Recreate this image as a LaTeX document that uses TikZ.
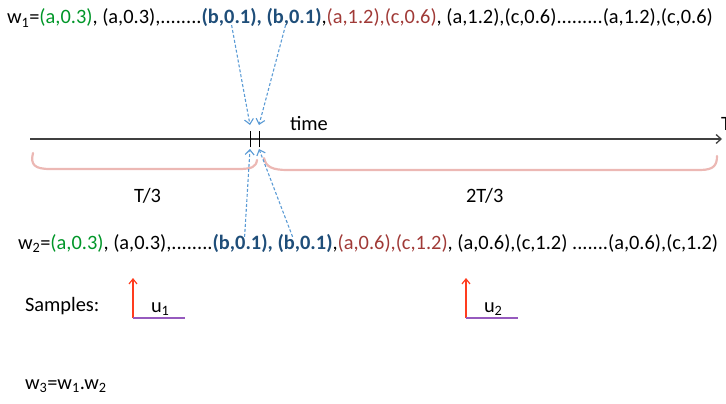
\documentclass[tikz,border=0pt]{standalone}
\usepackage{fontspec}
\setmainfont{Carlito}
\usetikzlibrary{arrows.meta}
\definecolor{okgreen}{RGB}{0,150,40}
\definecolor{bblue}{RGB}{31,78,121}
\definecolor{dred}{RGB}{160,58,55}
\definecolor{dashblue}{RGB}{91,155,213}
\definecolor{bracepink}{RGB}{236,184,180}
\definecolor{axisgray}{RGB}{64,64,64}
\definecolor{samplered}{RGB}{255,60,30}
\definecolor{samplepurple}{RGB}{150,90,190}
\tikzset{
  txt/.style={inner sep=0pt, outer sep=0pt, anchor=base west, font=\fontsize{20.4}{24}\selectfont},
  hit/.style={dashblue, densely dashed, line width=1.1pt, -{Straight Barb[length=5pt,width=9pt]}},
  bracket/.style={bracepink, line width=2.2pt, line cap=round},
  tick/.style={black, line width=1pt},
  spike/.style={samplered, line width=1.2pt, -{Straight Barb[length=5pt,width=8pt]}},
  base/.style={samplepurple, line width=1.2pt}
}
\newcommand{\gr}[1]{\textcolor{okgreen}{#1}}
\newcommand{\bl}[1]{\textcolor{bblue}{\bfseries #1}}
\newcommand{\rd}[1]{\textcolor{dred}{#1}}
\begin{document}
\begin{tikzpicture}[x=1pt,y=-1pt]
\useasboundingbox (0,0) rectangle (726,404);

% first sequence
\node[txt] (w1a) at (7,24) {w\textsubscript{1}=\gr{(a,0.3)}, (a,0.3),........};
\node[txt] (w1b) at (w1a.base east) {\bl{(b,0.1), (b,0.1)}};
\node[txt] (w1c) at (w1b.base east) {,\rd{(a,1.2),(c,0.6)}, (a,1.2),(c,0.6).........(a,1.2),(c,0.6)};

% time axis
\coordinate (t0) at (30,139);
\coordinate (t1) at (722,139);
\draw[axisgray, line width=1.3pt, -{Straight Barb[length=5pt,width=9pt]}] (t0) -- (t1);
\node[txt] (Tlab) at (721,130) {T};
\node[txt] (time) at (290,131) {time};
\coordinate (ka) at (250,139);
\coordinate (kb) at (259,139);
\draw[tick] ([yshift=-8pt]ka) -- ([yshift=8pt]ka);
\draw[tick] ([yshift=-8pt]kb) -- ([yshift=8pt]kb);

% brackets under the axis
\draw[bracket] (33,153) .. controls (30,165) and (35,169) .. (50,169)
  -- (238,169) .. controls (252,169) and (256,167) .. (257,160);
\draw[bracket] (264,158) .. controls (266,167) and (272,170) .. (288,170)
  -- (700,170) .. controls (714,170) and (717,165) .. (717,156);
\node[txt] (third) at (134,202) {T/3};
\node[txt] (twothird) at (466,202) {2T/3};

% second sequence
\node[txt] (w2a) at (18,249) {w\textsubscript{2}=\gr{(a,0.3)}, (a,0.3),........};
\node[txt] (w2b) at (w2a.base east) {\bl{(b,0.1), (b,0.1)}};
\node[txt] (w2c) at (w2b.base east) {,\rd{(a,0.6),(c,1.2)}, (a,0.6),(c,1.2) .......(a,0.6),(c,1.2)};

% pointers from the two (b,0.1) entries to the ticks
\draw[hit] ([xshift=30pt,yshift=2pt]w1b.south west) -- ([yshift=14pt]ka);
\draw[hit] ([xshift=84pt,yshift=2pt]w1b.south west) -- ([yshift=14pt]kb);
\draw[hit] ([xshift=32pt,yshift=-3pt]w2b.north west) -- ([yshift=-10pt]ka);
\draw[hit] ([xshift=80pt,yshift=-3pt]w2b.north west) -- ([yshift=-10pt]kb);

% samples
\node[txt] (samples) at (25,311) {Samples:};
\coordinate (s1) at (133,318);
\coordinate (s2) at (466,318);
\draw[spike] (s1) -- ++(0,-40);
\draw[base] (s1) -- ++(52,0);
\node[txt] (u1) at (151,312) {u\textsubscript{1}};
\draw[spike] (s2) -- ++(0,-40);
\draw[base] (s2) -- ++(52,0);
\node[txt] (u2) at (484,312) {u\textsubscript{2}};

\node[txt] (w3) at (25,389) {w\textsubscript{3}=w\textsubscript{1}.w\textsubscript{2}};
\end{tikzpicture}
\end{document}
